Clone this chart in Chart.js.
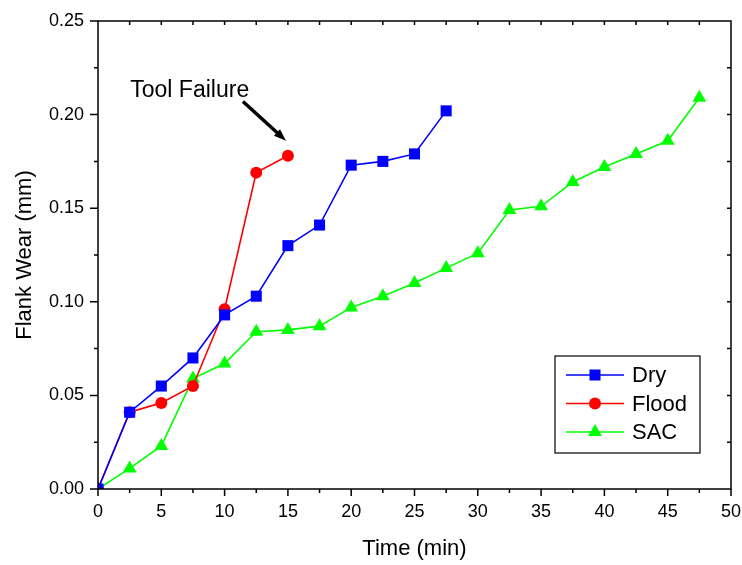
<!DOCTYPE html>
<html>
<head>
<meta charset="utf-8">
<script src="https://cdn.jsdelivr.net/npm/chart.js@4"></script>
<style>
  html, body { margin: 0; padding: 0; background: #fff; }
  #wrap { width: 742px; height: 565px; }
</style>
</head>
<body>
<div id="wrap"><canvas id="chart" width="742" height="565"></canvas></div>
<script>
// time (min) and flank wear (mm)
const dryTime = [0, 2.5, 5, 7.5, 10, 12.5, 15, 17.5, 20, 22.5, 25, 27.5];
const dryWear = [0, 0.041, 0.055, 0.070, 0.093, 0.103, 0.130, 0.141, 0.173, 0.175, 0.179, 0.202];

const floodTime = [0, 2.5, 5, 7.5, 10, 12.5, 15];
const floodWear = [0, 0.041, 0.046, 0.055, 0.096, 0.169, 0.178];

const sacTime = [0, 2.5, 5, 7.5, 10, 12.5, 15, 17.5, 20, 22.5, 25, 27.5, 30, 32.5, 35, 37.5, 40, 42.5, 45, 47.5];
const sacWear = [0, 0.011, 0.023, 0.059, 0.067, 0.084, 0.085, 0.087, 0.097, 0.103, 0.110, 0.118, 0.126, 0.149, 0.151, 0.164, 0.172, 0.179, 0.186, 0.209];

const seriesNames = ['Dry', 'Flood', 'SAC'];
const xTitle = 'Time (min)';
const yTitle = 'Flank Wear (mm)';
const note = 'Tool Failure';
// annotation arrow, in data units
const arrowFrom = [11.45, 0.207];
const arrowTo = [14.85, 0.186];
const noteAt = [2.55, 0.2092];

const FONT = '"Liberation Sans", Arial, sans-serif';

function pts(xs, ys) {
  return xs.map((x, i) => ({ x: x, y: ys[i] }));
}

function isMajor(v, step) {
  return Math.abs(Math.round(v / step) * step - v) < 1e-9;
}

const frame = {
  id: 'frame',
  afterDraw(chart) {
    const ctx = chart.ctx;
    const a = chart.chartArea;
    const xs = chart.scales.x, ys = chart.scales.y;
    ctx.save();
    ctx.strokeStyle = '#000';
    ctx.lineWidth = 1.5;
    ctx.strokeRect(a.left, a.top, a.right - a.left, a.bottom - a.top);

    ctx.beginPath();
    xs.ticks.forEach(t => {
      const px = xs.getPixelForValue(t.value);
      const len = isMajor(t.value, 5) ? 7 : 4;
      ctx.moveTo(px, a.bottom); ctx.lineTo(px, a.bottom + len);
      if (px > a.left + 1 && px < a.right - 1) {
        ctx.moveTo(px, a.top); ctx.lineTo(px, a.top + 4);
      }
    });
    ys.ticks.forEach(t => {
      const py = ys.getPixelForValue(t.value);
      const len = isMajor(t.value, 0.05) ? 8 : 4;
      ctx.moveTo(a.left, py); ctx.lineTo(a.left - len, py);
      if (py > a.top + 1 && py < a.bottom - 1) {
        ctx.moveTo(a.right, py); ctx.lineTo(a.right - 4, py);
      }
    });
    ctx.stroke();

    // axis titles
    ctx.fillStyle = '#000';
    ctx.font = '22px ' + FONT;
    ctx.textAlign = 'center';
    ctx.textBaseline = 'middle';
    ctx.fillText(xTitle, (a.left + a.right) / 2, 549);
    ctx.save();
    ctx.translate(25, (a.top + a.bottom) / 2);
    ctx.rotate(-Math.PI / 2);
    ctx.fillText(yTitle, 0, 0);
    ctx.restore();

    // annotation
    ctx.textAlign = 'left';
    ctx.textBaseline = 'alphabetic';
    ctx.font = '23px ' + FONT;
    ctx.fillText(note, xs.getPixelForValue(noteAt[0]), ys.getPixelForValue(noteAt[1]));
    const x1 = xs.getPixelForValue(arrowFrom[0]), y1 = ys.getPixelForValue(arrowFrom[1]);
    const x2 = xs.getPixelForValue(arrowTo[0]), y2 = ys.getPixelForValue(arrowTo[1]);
    const ang = Math.atan2(y2 - y1, x2 - x1);
    const head = 13;
    ctx.lineWidth = 3.5;
    ctx.beginPath();
    ctx.moveTo(x1, y1);
    ctx.lineTo(x2 - Math.cos(ang) * head * 0.8, y2 - Math.sin(ang) * head * 0.8);
    ctx.stroke();
    ctx.beginPath();
    ctx.moveTo(x2, y2);
    ctx.lineTo(x2 - head * Math.cos(ang - 0.35), y2 - head * Math.sin(ang - 0.35));
    ctx.lineTo(x2 - head * Math.cos(ang + 0.35), y2 - head * Math.sin(ang + 0.35));
    ctx.closePath();
    ctx.fill();

    // legend box
    const bx = 555, by = 356, bw = 145, bh = 97;
    ctx.lineWidth = 1.2;
    ctx.fillStyle = '#fff';
    ctx.fillRect(bx, by, bw, bh);
    ctx.strokeRect(bx, by, bw, bh);
    ctx.font = '22px ' + FONT;
    ctx.textBaseline = 'middle';
    chart.data.datasets.forEach((ds, i) => {
      const ry = 375 + i * 28.5;
      ctx.strokeStyle = ds.borderColor;
      ctx.lineWidth = 1.5;
      ctx.beginPath();
      ctx.moveTo(566, ry); ctx.lineTo(624, ry);
      ctx.stroke();
      ctx.fillStyle = ds.backgroundColor;
      Chart.helpers.drawPoint(ctx, {
        pointStyle: ds.pointStyle, radius: ds.pointRadius, rotation: 0, borderWidth: 0
      }, 595, ry);
      ctx.fillStyle = '#000';
      ctx.fillText(ds.label, 632, ry + 1);
    });
    ctx.restore();
  }
};

new Chart(document.getElementById('chart'), {
  type: 'line',
  data: {
    datasets: [
      {
        label: seriesNames[0], data: pts(dryTime, dryWear),
        borderColor: '#0000ff', backgroundColor: '#0000ff',
        pointStyle: 'rect', pointRadius: 7.8, borderWidth: 1.6, pointBorderWidth: 0
      },
      {
        label: seriesNames[1], data: pts(floodTime, floodWear),
        borderColor: '#ff0000', backgroundColor: '#ff0000',
        pointStyle: 'circle', pointRadius: 6, borderWidth: 1.6, pointBorderWidth: 0
      },
      {
        label: seriesNames[2], data: pts(sacTime, sacWear),
        borderColor: '#00ff00', backgroundColor: '#00ff00',
        pointStyle: 'triangle', pointRadius: 8, borderWidth: 1.6, pointBorderWidth: 0
      }
    ]
  },
  options: {
    responsive: false,
    animation: false,
    layout: { padding: { top: 21, right: 11, left: 0, bottom: 0 } },
    plugins: { legend: { display: false }, tooltip: { enabled: false } },
    elements: { line: { tension: 0 } },
    scales: {
      x: {
        type: 'linear', min: 0, max: 50,
        grid: { display: false, drawTicks: false },
        border: { display: false },
        ticks: {
          stepSize: 2.5, autoSkip: false, maxRotation: 0,
          padding: 12, color: '#000',
          font: { family: FONT, size: 18 },
          callback: v => isMajor(v, 5) ? String(Math.round(v)) : ''
        },
        afterFit: s => { s.height = 76; s.paddingLeft = 0; s.paddingRight = 0; }
      },
      y: {
        type: 'linear', min: 0, max: 0.25,
        grid: { display: false, drawTicks: false },
        border: { display: false },
        ticks: {
          stepSize: 0.025, autoSkip: false,
          padding: 14, color: '#000',
          font: { family: FONT, size: 18 },
          callback: v => isMajor(v, 0.05) ? v.toFixed(2) : ''
        },
        afterFit: s => { s.width = 98; s.paddingTop = 0; s.paddingBottom = 0; }
      }
    }
  },
  plugins: [frame]
});
</script>
</body>
</html>
